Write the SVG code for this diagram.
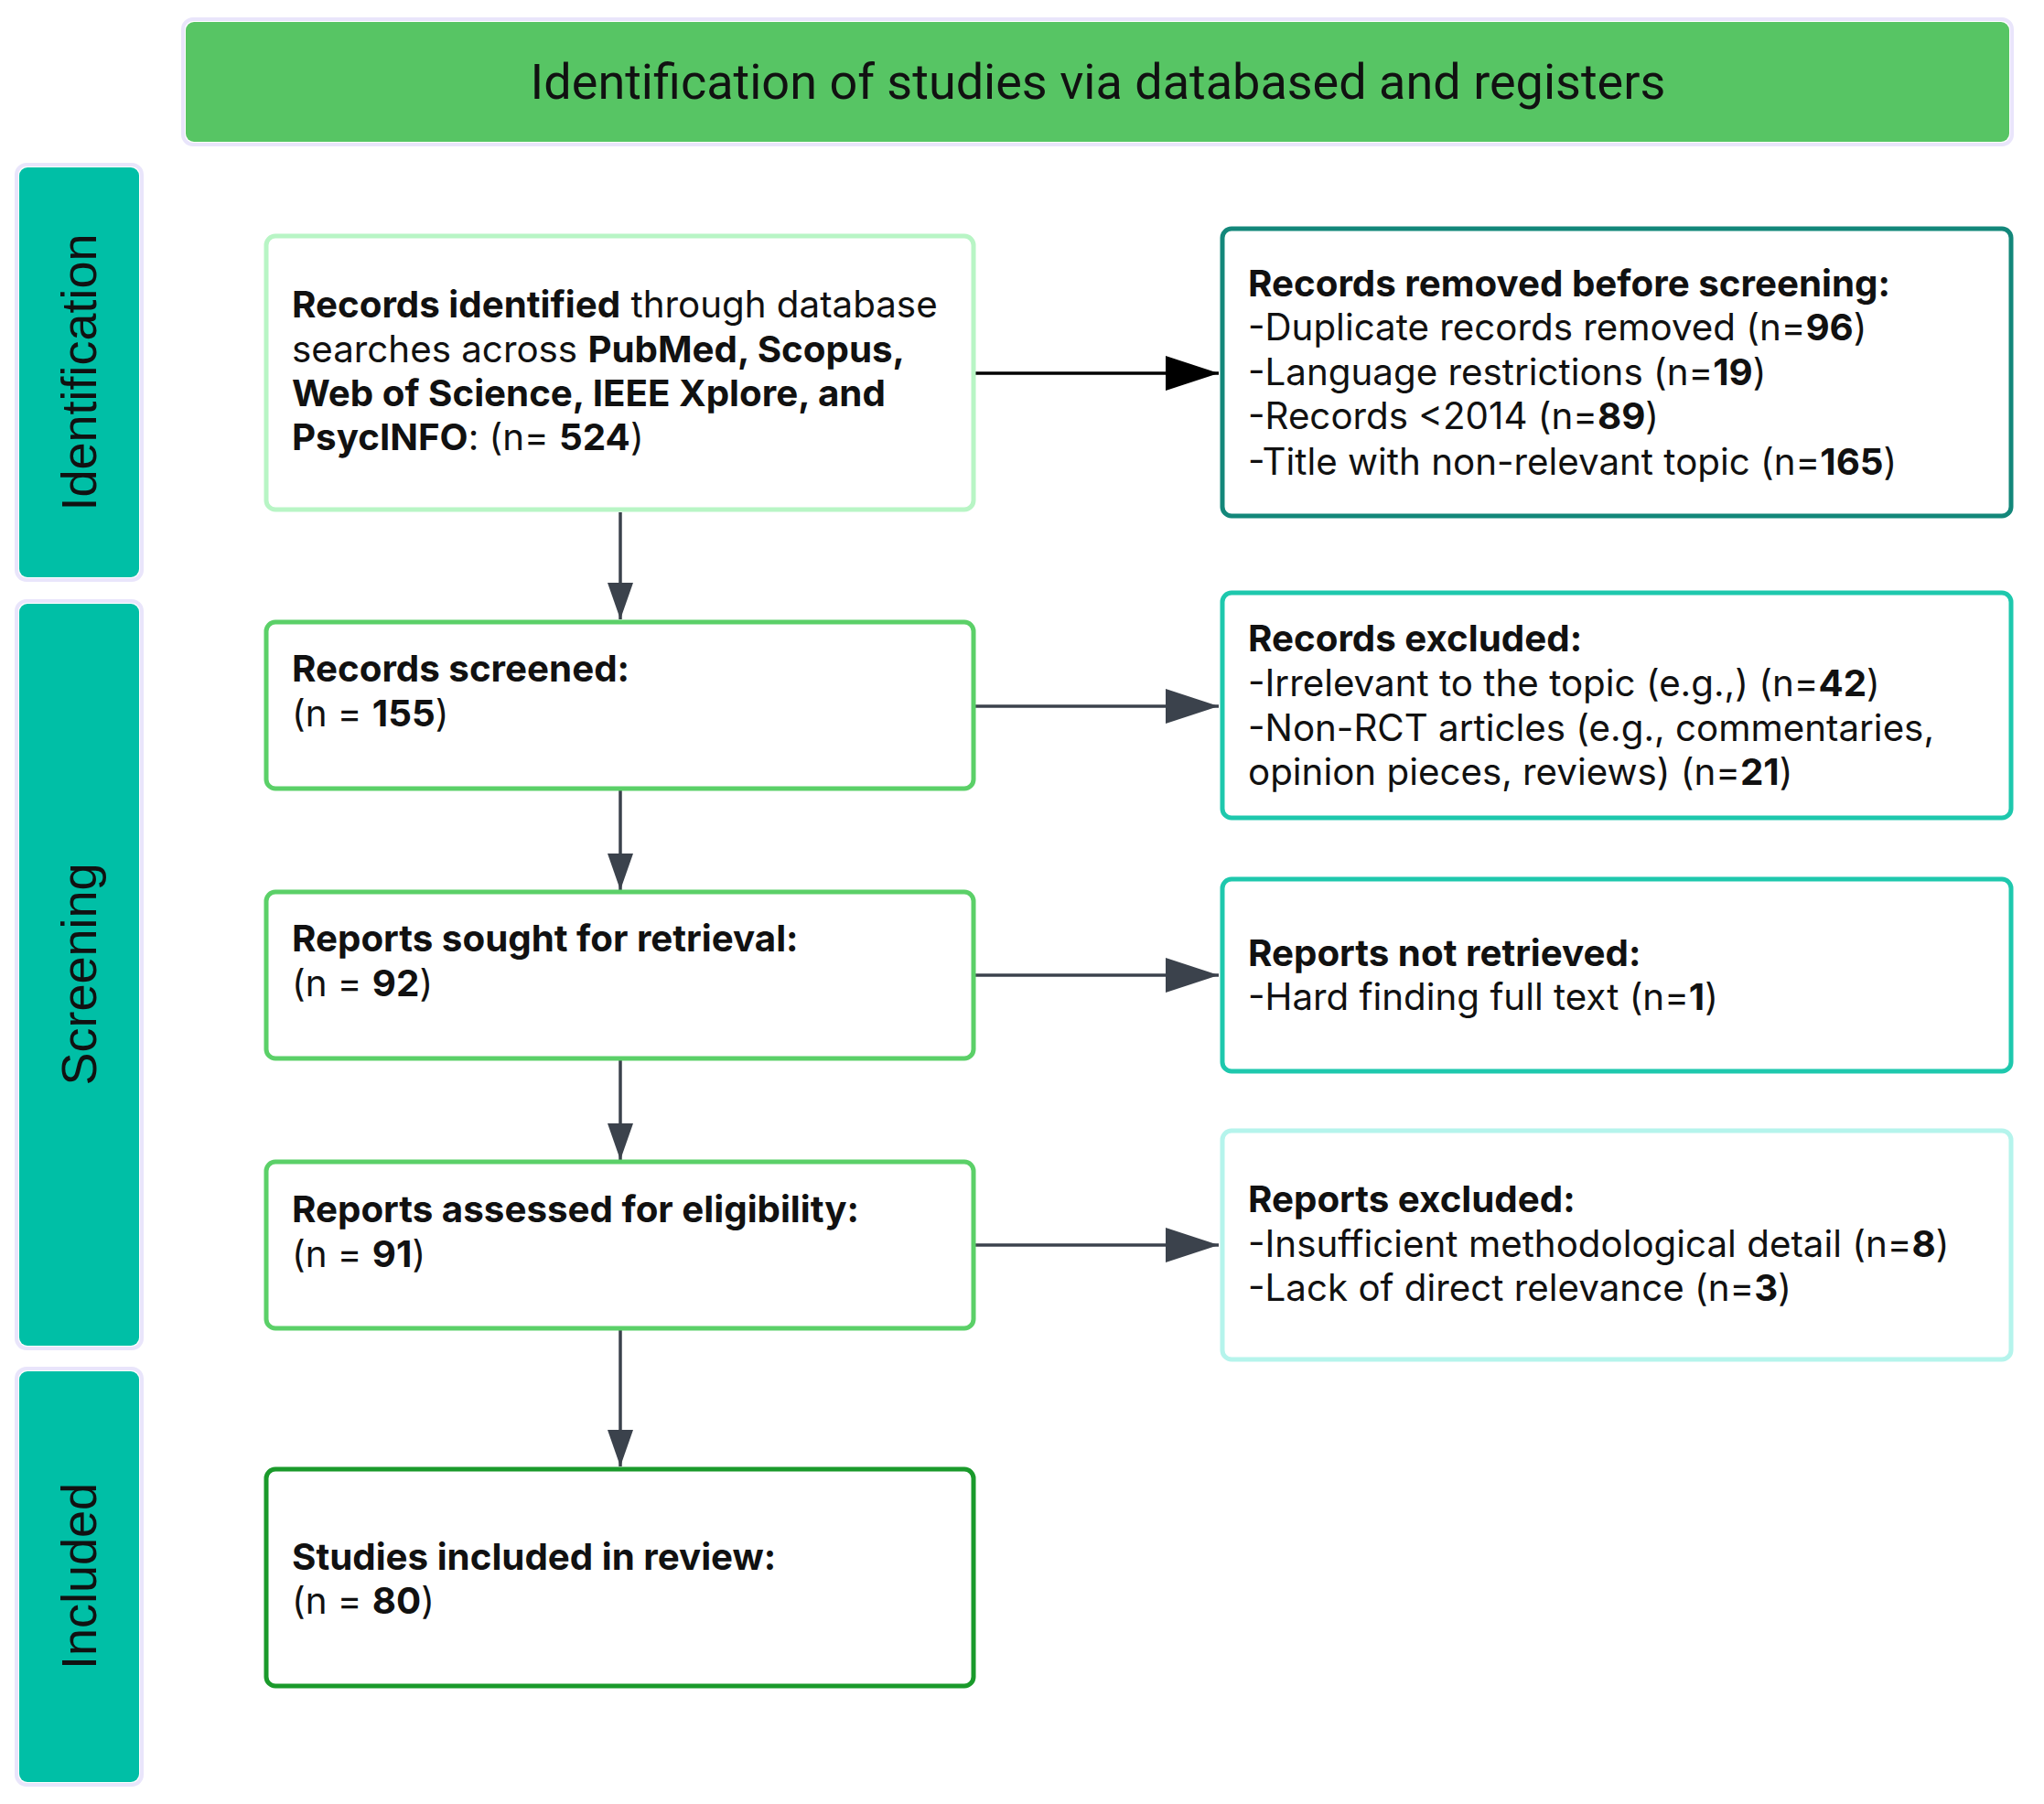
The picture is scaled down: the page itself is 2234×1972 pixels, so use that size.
<svg xmlns="http://www.w3.org/2000/svg" width="2234" height="1972" viewBox="0 0 2234 1972">
<defs>
<style>
.halo{fill:none;stroke:#e9e5fb;stroke-width:4}
.banner{fill:#57c564}
.side{fill:#00bfa6}
.sidet{font-family:"Liberation Sans",Arial,sans-serif;font-size:54px;fill:#111}
.title{font-family:Roboto,"Liberation Sans",sans-serif;font-size:54px;fill:#111}
.box{fill:#fff;stroke-width:5}
.t{font-family:Inter,"Liberation Sans",sans-serif;font-size:40.3px;fill:#111}
.b{font-weight:700}
.con{stroke:#3b424c;stroke-width:3.5;fill:none}
</style>
<marker id="ah" markerUnits="userSpaceOnUse" markerWidth="60" markerHeight="40" refX="58" refY="19" orient="auto">
<path d="M0,0 L58,19 L0,38 Z" fill="#3b424c"/>
</marker>
<marker id="ahk" markerUnits="userSpaceOnUse" markerWidth="60" markerHeight="40" refX="58" refY="19" orient="auto">
<path d="M0,0 L58,19 L0,38 Z" fill="#000"/>
</marker>
<marker id="av" markerUnits="userSpaceOnUse" markerWidth="42" markerHeight="30" refX="40" refY="14" orient="auto">
<path d="M0,0 L40,14 L0,28 Z" fill="#3b424c"/>
</marker>
</defs>
<rect width="2234" height="1972" fill="#fff"/>

<g id="banner">
<rect class="halo" x="200" y="21" width="1999" height="137" rx="11"/>
<rect class="banner" x="203" y="24" width="1993" height="131" rx="9"/>
<text class="title" x="1200" y="108" text-anchor="middle">Identification of studies via databased and registers</text>
</g>

<g id="side-identification">
<rect class="halo" x="18" y="180" width="137" height="454" rx="11"/>
<rect class="side" x="21" y="183" width="131" height="448" rx="9"/>
<text class="sidet" transform="translate(105,407) rotate(-90)" text-anchor="middle">Identification</text>
</g>
<g id="side-screening">
<rect class="halo" x="18" y="657" width="137" height="817" rx="11"/>
<rect class="side" x="21" y="660" width="131" height="811" rx="9"/>
<text class="sidet" transform="translate(105,1065) rotate(-90)" text-anchor="middle">Screening</text>
</g>
<g id="side-included">
<rect class="halo" x="18" y="1496" width="137" height="455" rx="11"/>
<rect class="side" x="21" y="1499" width="131" height="449" rx="9"/>
<text class="sidet" transform="translate(105,1723) rotate(-90)" text-anchor="middle">Included</text>
</g>

<g id="connectors">
<line x1="1064" y1="408" x2="1332" y2="408" stroke="#000" stroke-width="3.5" marker-end="url(#ahk)"/>
<line class="con" x1="1064" y1="772" x2="1332" y2="772" marker-end="url(#ah)"/>
<line class="con" x1="1064" y1="1066" x2="1332" y2="1066" marker-end="url(#ah)"/>
<line class="con" x1="1064" y1="1361" x2="1332" y2="1361" marker-end="url(#ah)"/>
<line class="con" x1="678" y1="560" x2="678" y2="677" marker-end="url(#av)"/>
<line class="con" x1="678" y1="864" x2="678" y2="973" marker-end="url(#av)"/>
<line class="con" x1="678" y1="1159" x2="678" y2="1268" marker-end="url(#av)"/>
<line class="con" x1="678" y1="1454" x2="678" y2="1603" marker-end="url(#av)"/>
</g>

<g id="n-identified">
<rect class="box" x="291" y="258" width="773" height="299" rx="10" stroke="#b8f5c5"/>
<text class="t" x="319" y="347"><tspan class="b">Records identified</tspan> through database</text>
<text class="t" x="319" y="396">searches across <tspan class="b">PubMed, Scopus,</tspan></text>
<text class="t b" x="319" y="444">Web of Science, IEEE Xplore, and</text>
<text class="t" x="319" y="492"><tspan class="b">PsycINFO</tspan>: (n= <tspan class="b">524</tspan>)</text>
</g>

<g id="n-screened">
<rect class="box" x="291" y="680" width="773" height="182" rx="10" stroke="#5bd068"/>
<text class="t b" x="319" y="745">Records screened:</text>
<text class="t" x="319" y="794">(n = <tspan class="b">155</tspan>)</text>
</g>

<g id="n-sought">
<rect class="box" x="291" y="975" width="773" height="182" rx="10" stroke="#5bd068"/>
<text class="t b" x="319" y="1040">Reports sought for retrieval:</text>
<text class="t" x="319" y="1089">(n = <tspan class="b">92</tspan>)</text>
</g>

<g id="n-assessed">
<rect class="box" x="291" y="1270" width="773" height="182" rx="10" stroke="#5bd068"/>
<text class="t b" x="319" y="1336">Reports assessed for eligibility:</text>
<text class="t" x="319" y="1385">(n = <tspan class="b">91</tspan>)</text>
</g>

<g id="n-included">
<rect class="box" x="291" y="1606" width="773" height="237" rx="10" stroke="#1a9a2b"/>
<text class="t b" x="319" y="1716">Studies included in review:</text>
<text class="t" x="319" y="1764">(n = <tspan class="b">80</tspan>)</text>
</g>

<g id="n-removed">
<rect class="box" x="1336" y="250" width="862" height="314" rx="10" stroke="#13877a"/>
<text class="t b" x="1364" y="324">Records removed before screening:</text>
<text class="t" x="1364" y="372">-Duplicate records removed (n=<tspan class="b">96</tspan>)</text>
<text class="t" x="1364" y="421">-Language restrictions (n=<tspan class="b">19</tspan>)</text>
<text class="t" x="1364" y="469">-Records &lt;2014 (n=<tspan class="b">89</tspan>)</text>
<text class="t" x="1364" y="519">-Title with non-relevant topic (n=<tspan class="b">165</tspan>)</text>
</g>

<g id="n-excluded">
<rect class="box" x="1336" y="648" width="862" height="246" rx="10" stroke="#1ec8ad"/>
<text class="t b" x="1364" y="712">Records excluded:</text>
<text class="t" x="1364" y="761">-Irrelevant to the topic (e.g.,) (n=<tspan class="b">42</tspan>)</text>
<text class="t" x="1364" y="810">-Non-RCT articles (e.g., commentaries,</text>
<text class="t" x="1364" y="858">opinion pieces, reviews) (n=<tspan class="b">21</tspan>)</text>
</g>

<g id="n-notretrieved">
<rect class="box" x="1336" y="961" width="862" height="210" rx="10" stroke="#1ec8ad"/>
<text class="t b" x="1364" y="1056">Reports not retrieved:</text>
<text class="t" x="1364" y="1104">-Hard finding full text (n=<tspan class="b">1</tspan>)</text>
</g>

<g id="n-repexcluded">
<rect class="box" x="1336" y="1236" width="862" height="250" rx="10" stroke="#b5f4ec"/>
<text class="t b" x="1364" y="1325">Reports excluded:</text>
<text class="t" x="1364" y="1374">-Insufficient methodological detail (n=<tspan class="b">8</tspan>)</text>
<text class="t" x="1364" y="1422">-Lack of direct relevance (n=<tspan class="b">3</tspan>)</text>
</g>
</svg>
